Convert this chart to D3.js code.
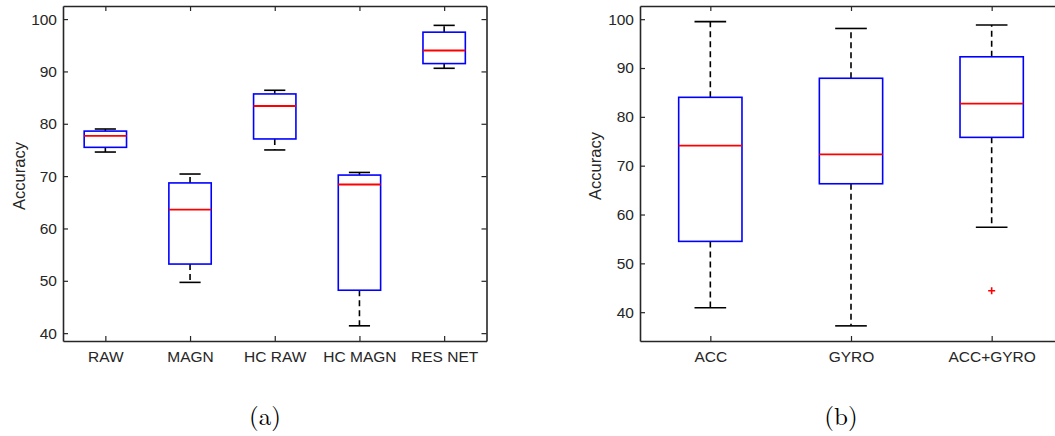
<!DOCTYPE html>
<meta charset="utf-8">
<style>
body { margin: 0; background: #fff; }
text { font-family: "Liberation Sans", Arial, sans-serif; }
</style>
<svg id="fig" width="1055" height="436"></svg>
<script src="https://d3js.org/d3.v7.min.js"></script>
<script>

// (a) feature sets
var catsA = ["RAW", "MAGN", "HC RAW", "HC MAGN", "RES NET"];
var loWhiskA = [74.6, 49.7, 75.0, 41.4, 90.6];
var q1A      = [75.5, 53.2, 77.1, 48.2, 91.5];
var medA     = [77.7, 63.6, 83.4, 68.4, 94.0];
var q3A      = [78.6, 68.7, 85.7, 70.2, 97.5];
var hiWhiskA = [79.0, 70.4, 86.4, 70.7, 98.8];
var outA     = [[], [], [], [], []];

// (b) sensors
var catsB = ["ACC", "GYRO", "ACC+GYRO"];
var loWhiskB = [40.9, 37.2, 57.4];
var q1B      = [54.5, 66.3, 75.8];
var medB     = [74.1, 72.3, 82.7];
var q3B      = [84.0, 87.9, 92.3];
var hiWhiskB = [99.5, 98.1, 98.8];
var outB     = [[], [], [44.4]];

var yTicks = [40, 50, 60, 70, 80, 90, 100];

var svg = d3.select("svg#fig");
var axisColor = "#262626";

function pack(cats, lo, q1, med, q3, hi, out) {
	return cats.map(function(c, i) {
		return { name: c, i: i + 1, lo: lo[i], q1: q1[i], med: med[i], q3: q3[i], hi: hi[i], out: out[i] };
	});
}

function drawPanel(opt) {
	var g = svg.append("g");
	var x = d3.scaleLinear().domain([0.5, opt.data.length + 0.5]).range([opt.left, opt.right]);
	var y = d3.scaleLinear().domain(opt.ydom).range([opt.bottom, opt.top]);
	var bw = opt.boxWidth, cw = bw / 2;

	// whiskers
	var wk = g.append("g").attr("stroke", "#000").attr("stroke-width", 1.6).attr("fill", "none");
	opt.data.forEach(function(d) {
		wk.append("line").attr("x1", x(d.i)).attr("x2", x(d.i))
			.attr("y1", y(d.q3)).attr("y2", y(d.hi)).attr("stroke-dasharray", "6,4");
		wk.append("line").attr("x1", x(d.i)).attr("x2", x(d.i))
			.attr("y1", y(d.q1)).attr("y2", y(d.lo)).attr("stroke-dasharray", "6,4");
		wk.append("line").attr("x1", x(d.i - cw / 2)).attr("x2", x(d.i + cw / 2))
			.attr("y1", y(d.hi)).attr("y2", y(d.hi));
		wk.append("line").attr("x1", x(d.i - cw / 2)).attr("x2", x(d.i + cw / 2))
			.attr("y1", y(d.lo)).attr("y2", y(d.lo));
	});

	// boxes
	g.selectAll("rect.box").data(opt.data).enter().append("rect")
		.attr("class", "box")
		.attr("x", function(d) { return x(d.i - bw / 2); })
		.attr("width", function(d) { return x(d.i + bw / 2) - x(d.i - bw / 2); })
		.attr("y", function(d) { return y(d.q3); })
		.attr("height", function(d) { return y(d.q1) - y(d.q3); })
		.attr("fill", "none").attr("stroke", "#0000ff").attr("stroke-width", 1.6);

	// medians
	g.selectAll("line.med").data(opt.data).enter().append("line")
		.attr("class", "med")
		.attr("x1", function(d) { return x(d.i - bw / 2); })
		.attr("x2", function(d) { return x(d.i + bw / 2); })
		.attr("y1", function(d) { return y(d.med); })
		.attr("y2", function(d) { return y(d.med); })
		.attr("stroke", "#ff0000").attr("stroke-width", 1.8);

	// outliers
	opt.data.forEach(function(d) {
		d.out.forEach(function(v) {
			g.append("path")
				.attr("d", "M" + (x(d.i) - 3.5) + "," + y(v) + "h7M" + x(d.i) + "," + (y(v) - 3.5) + "v7")
				.attr("stroke", "#ff0000").attr("stroke-width", 1.6);
		});
	});

	// frame and axes
	var ax = g.append("g");
	ax.append("g").attr("transform", "translate(" + opt.left + ",0)")
		.call(d3.axisLeft(y).tickValues(yTicks).tickSizeInner(-5).tickSizeOuter(0).tickPadding(6));
	ax.append("g").attr("transform", "translate(" + opt.right + ",0)")
		.call(d3.axisRight(y).tickValues(yTicks).tickSizeInner(-5).tickSizeOuter(0).tickFormat(""));
	ax.append("g").attr("transform", "translate(0," + opt.bottom + ")")
		.call(d3.axisBottom(x).tickValues(d3.range(1, opt.data.length + 1))
			.tickFormat(function(v) { return opt.data[v - 1].name; })
			.tickSizeInner(-5).tickSizeOuter(0).tickPadding(10));
	ax.append("g").attr("transform", "translate(0," + opt.top + ")")
		.call(d3.axisTop(x).tickValues(d3.range(1, opt.data.length + 1))
			.tickSizeInner(-5).tickSizeOuter(0).tickFormat(""));
	ax.selectAll(".domain").attr("stroke", axisColor).attr("stroke-width", 1.6);
	ax.selectAll(".tick line").attr("stroke", axisColor).attr("stroke-width", 1.2);
	ax.selectAll(".tick text").attr("fill", axisColor).style("font-size", "15.5px")
		.style("font-family", "'Liberation Sans', Arial, sans-serif");

	g.append("text")
		.attr("transform", "translate(" + opt.ylabX + "," + opt.ylabY + ") rotate(-90)")
		.attr("text-anchor", "middle")
		.attr("fill", axisColor)
		.style("font-size", "16.5px")
		.text("Accuracy");

	g.append("text")
		.attr("x", opt.capX).attr("y", 425)
		.attr("text-anchor", "middle")
		.style("font-family", "'Latin Modern Roman', 'DejaVu Serif', 'Liberation Serif', serif")
		.style("font-size", "25px")
		.attr("fill", "#000")
		.text(opt.caption);
}

drawPanel({
	data: pack(catsA, loWhiskA, q1A, medA, q3A, hiWhiskA, outA),
	left: 63, right: 486.5, top: 6, bottom: 341,
	ydom: [38.5, 102.5], boxWidth: 0.5,
	ylabX: 25, ylabY: 176, capX: 265, caption: "(a)"
});

drawPanel({
	data: pack(catsB, loWhiskB, q1B, medB, q3B, hiWhiskB, outB),
	left: 640, right: 1062, top: 6, bottom: 341,
	ydom: [34.1, 102.7], boxWidth: 0.45,
	ylabX: 601, ylabY: 166, capX: 841, caption: "(b)"
});

</script>
